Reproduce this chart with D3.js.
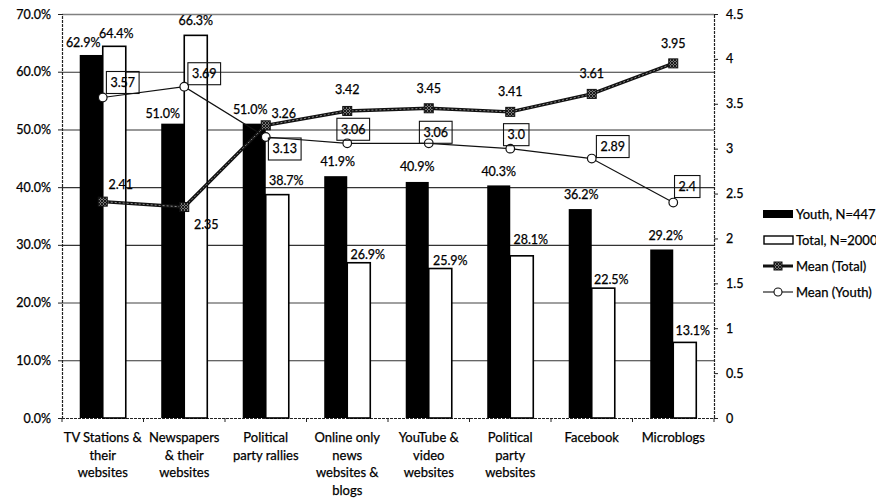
<!DOCTYPE html>
<html>
<head>
<meta charset="utf-8">
<script src="https://cdn.jsdelivr.net/npm/d3@7/dist/d3.min.js"></script>
<style>
  html, body { margin: 0; padding: 0; background: #fff; }
  svg { display: block; font-family: Lato, "Open Sans", sans-serif; }
  svg text { fill: #000; stroke: #000; stroke-width: 0.25px; }
</style>
</head>
<body>
<svg id="chart" width="876" height="501"></svg>
<script>
// ---- data ----
const categories = [
  "TV Stations & their websites",
  "Newspapers & their websites",
  "Political party rallies",
  "Online only news websites & blogs",
  "YouTube & video websites",
  "Political party websites",
  "Facebook",
  "Microblogs"
];
const categoryLines = [
  ["TV Stations &", "their", "websites"],
  ["Newspapers", "& their", "websites"],
  ["Political", "party rallies"],
  ["Online only", "news", "websites &", "blogs"],
  ["YouTube &", "video", "websites"],
  ["Political", "party", "websites"],
  ["Facebook"],
  ["Microblogs"]
];
const youthPct = [62.9, 51.0, 51.0, 41.9, 40.9, 40.3, 36.2, 29.2];
const totalPct = [64.4, 66.3, 38.7, 26.9, 25.9, 28.1, 22.5, 13.1];
const meanTotal = [2.41, 2.35, 3.26, 3.42, 3.45, 3.41, 3.61, 3.95];
const meanYouth = [3.57, 3.69, 3.13, 3.06, 3.06, 3.0, 2.89, 2.4];
const meanYouthText = ["3.57", "3.69", "3.13", "3.06", "3.06", "3.0", "2.89", "2.4"];
const leftTicks = [0, 10, 20, 30, 40, 50, 60, 70];
const rightTicks = [0, 0.5, 1, 1.5, 2, 2.5, 3, 3.5, 4, 4.5];
const seriesNames = ["Youth, N=447", "Total, N=2000", "Mean (Total)", "Mean (Youth)"];

// ---- label placement (offsets in px from each mark) ----
const youthLabelOff = [[-8,-12],[-10,-10],[-4,-14],[2,-15],[0,-15],[0,-14],[1,-14],[4,-14]];
const totalLabelOff = [[2,-13],[0,-15],[9,-14],[9,-8],[10,-8],[9,-16],[8,-9],[8,-12]];
const meanTotalOff  = [[18,-17],[22,18],[18,-12],[0,-21],[0,-20],[0,-20],[0,-20],[0,-20]];
const meanYouthOff  = [[20,-15],[20,-13],[19,12],[6,-14],[7,-11],[6,-14],[21,-12],[14,-16]];

// ---- layout ----
const plotL = 62, plotR = 714, plotT = 14, plotB = 418;
const svg = d3.select("#chart");

const x = d3.scaleBand().domain(categories).range([plotL, plotR]).paddingInner(0).paddingOuter(0);
const xs = d3.scaleBand().domain(["youth", "total"]).range([0, x.bandwidth()])
  .paddingInner(0).paddingOuter(0.77);
const yL = d3.scaleLinear().domain([0, 70]).range([plotB, plotT]);
const yR = d3.scaleLinear().domain([0, 4.5]).range([plotB, plotT]);
const cx = i => x(categories[i]) + x.bandwidth() / 2;

// hatched fill for the Mean (Total) markers
const defs = svg.append("defs");
const pat = defs.append("pattern").attr("id", "hatch").attr("patternUnits", "userSpaceOnUse")
  .attr("width", 3).attr("height", 3);
pat.append("rect").attr("width", 3).attr("height", 3).attr("fill", "#777");
pat.append("path").attr("d", "M0,0L3,3M3,0L0,3").attr("stroke", "#111").attr("stroke-width", 0.9);

// ---- gridlines ----
svg.append("g").selectAll("line").data(leftTicks.filter(d => d > 0)).join("line")
  .attr("x1", plotL).attr("x2", plotR)
  .attr("y1", d => yL(d) + 0.5).attr("y2", d => yL(d) + 0.5)
  .attr("stroke", d => (d === 70 || d === 20) ? "#808080" : "#333")
  .attr("stroke-width", d => (d === 70 || d === 20) ? 1.6 : 1.1);

// ---- axes ----
const fmtPct = d => d.toFixed(1) + "%";
const gL = svg.append("g").attr("transform", `translate(${plotL},0)`)
  .call(d3.axisLeft(yL).tickValues(leftTicks).tickFormat(fmtPct).tickSize(4).tickPadding(7));
const gR = svg.append("g").attr("transform", `translate(${plotR},0)`)
  .call(d3.axisRight(yR).tickValues(rightTicks).tickFormat(d => String(d)).tickSize(4).tickPadding(8));
[gL, gR].forEach(g => {
  g.select(".domain").attr("stroke", "#222").attr("stroke-width", 1.2).attr("stroke-dasharray", "3,1");
  g.selectAll(".tick line").attr("stroke", "#222");
  g.selectAll(".tick text").style("font-size", "12.5px").style("font-family", "Lato, sans-serif");
});

// category axis: baseline, boundary ticks and wrapped labels
svg.append("line").attr("x1", plotL).attr("x2", plotR).attr("y1", plotB + 0.5).attr("y2", plotB + 0.5)
  .attr("stroke", "#222").attr("stroke-width", 1.2).attr("stroke-dasharray", "3,1");
const bounds = categories.map(c => x(c)).concat([plotR]);
svg.append("g").selectAll("line").data(bounds).join("line")
  .attr("x1", d => d).attr("x2", d => d).attr("y1", plotB).attr("y2", plotB + 4)
  .attr("stroke", "#222");
const catText = svg.append("g").selectAll("text").data(categoryLines).join("text")
  .attr("text-anchor", "middle").style("font-size", "13px");
catText.selectAll("tspan").data((d, i) => d.map(t => ({ t, i }))).join("tspan")
  .attr("x", d => cx(d.i)).attr("y", (d, j) => 442 + j * 17.7).text(d => d.t);

// ---- bars ----
const bars = svg.append("g");
bars.selectAll(".youth").data(youthPct).join("rect").attr("class", "youth")
  .attr("x", (d, i) => x(categories[i]) + xs("youth")).attr("width", xs.bandwidth())
  .attr("y", d => yL(d)).attr("height", d => plotB - yL(d)).attr("fill", "#000");
bars.selectAll(".total").data(totalPct).join("rect").attr("class", "total")
  .attr("x", (d, i) => x(categories[i]) + xs("total")).attr("width", xs.bandwidth())
  .attr("y", d => yL(d)).attr("height", d => plotB - yL(d))
  .attr("fill", "#fff").attr("stroke", "#000").attr("stroke-width", 1.6);

// bar value labels
const lbl = svg.append("g").style("font-size", "12.5px").attr("text-anchor", "middle");
lbl.selectAll(".yl").data(youthPct).join("text").attr("class", "yl")
  .attr("x", (d, i) => x(categories[i]) + xs("youth") + xs.bandwidth() / 2 + youthLabelOff[i][0])
  .attr("y", (d, i) => yL(d) + youthLabelOff[i][1]).attr("dy", "0.35em")
  .text(d => d.toFixed(1) + "%");
lbl.selectAll(".tl").data(totalPct).join("text").attr("class", "tl")
  .attr("x", (d, i) => x(categories[i]) + xs("total") + xs.bandwidth() / 2 + totalLabelOff[i][0])
  .attr("y", (d, i) => yL(d) + totalLabelOff[i][1]).attr("dy", "0.35em")
  .text(d => d.toFixed(1) + "%");

// ---- Mean (Youth) line ----
const lineY = d3.line().x((d, i) => cx(i)).y(d => yR(d));
svg.append("path").datum(meanYouth).attr("d", lineY)
  .attr("fill", "none").attr("stroke", "#111").attr("stroke-width", 1.2);

// ---- Mean (Total) line ----
svg.append("path").datum(meanTotal).attr("d", lineY)
  .attr("fill", "none").attr("stroke", "#111").attr("stroke-width", 3.4).attr("stroke-linejoin", "round");
svg.append("path").datum(meanTotal).attr("d", lineY)
  .attr("fill", "none").attr("stroke", "#999").attr("stroke-width", 0.9).attr("stroke-dasharray", "2,2");

svg.append("g").selectAll("circle").data(meanYouth).join("circle")
  .attr("cx", (d, i) => cx(i)).attr("cy", d => yR(d)).attr("r", 4.3)
  .attr("fill", "#fff").attr("stroke", "#111").attr("stroke-width", 1.2);
svg.append("g").selectAll("rect").data(meanTotal).join("rect")
  .attr("x", (d, i) => cx(i) - 4.5).attr("y", d => yR(d) - 4.5).attr("width", 9).attr("height", 9)
  .attr("fill", "url(#hatch)").attr("stroke", "#111").attr("stroke-width", 1);

// mean labels
const mt = svg.append("g").style("font-size", "12.5px").attr("text-anchor", "middle");
mt.selectAll("text").data(meanTotal).join("text")
  .attr("x", (d, i) => cx(i) + meanTotalOff[i][0]).attr("y", (d, i) => yR(d) + meanTotalOff[i][1])
  .attr("dy", "0.35em").text(d => d.toFixed(2));

const my = svg.append("g").selectAll("g").data(meanYouth).join("g")
  .attr("transform", (d, i) => `translate(${cx(i) + meanYouthOff[i][0]},${yR(d) + meanYouthOff[i][1]})`);
my.append("text").attr("text-anchor", "middle").attr("dy", "0.35em").style("font-size", "12.5px")
  .text((d, i) => meanYouthText[i]);
my.each(function () {
  const g = d3.select(this);
  const b = g.select("text").node().getBBox();
  g.insert("rect", "text").attr("x", b.x - 4).attr("y", -11).attr("width", b.width + 8).attr("height", 22)
    .attr("fill", "none").attr("stroke", "#111").attr("stroke-width", 1.1);
});

// ---- legend ----
const lg = svg.append("g").style("font-size", "13px");
const ly = [214, 240, 266, 292];
lg.append("rect").attr("x", 763).attr("y", ly[0] - 4).attr("width", 30).attr("height", 8).attr("fill", "#000");
lg.append("rect").attr("x", 764).attr("y", ly[1] - 4).attr("width", 29).attr("height", 8)
  .attr("fill", "#fff").attr("stroke", "#000").attr("stroke-width", 1.4);
lg.append("line").attr("x1", 763).attr("x2", 793).attr("y1", ly[2]).attr("y2", ly[2])
  .attr("stroke", "#111").attr("stroke-width", 3);
lg.append("rect").attr("x", 774).attr("y", ly[2] - 4).attr("width", 8).attr("height", 8)
  .attr("fill", "url(#hatch)").attr("stroke", "#111");
lg.append("line").attr("x1", 763).attr("x2", 793).attr("y1", ly[3]).attr("y2", ly[3])
  .attr("stroke", "#111").attr("stroke-width", 1.1);
lg.append("circle").attr("cx", 778).attr("cy", ly[3]).attr("r", 4)
  .attr("fill", "#fff").attr("stroke", "#111").attr("stroke-width", 1.1);
lg.selectAll("text").data(seriesNames).join("text")
  .attr("x", 796).attr("y", (d, i) => ly[i]).attr("dy", "0.35em").text(d => d);
</script>
</body>
</html>
